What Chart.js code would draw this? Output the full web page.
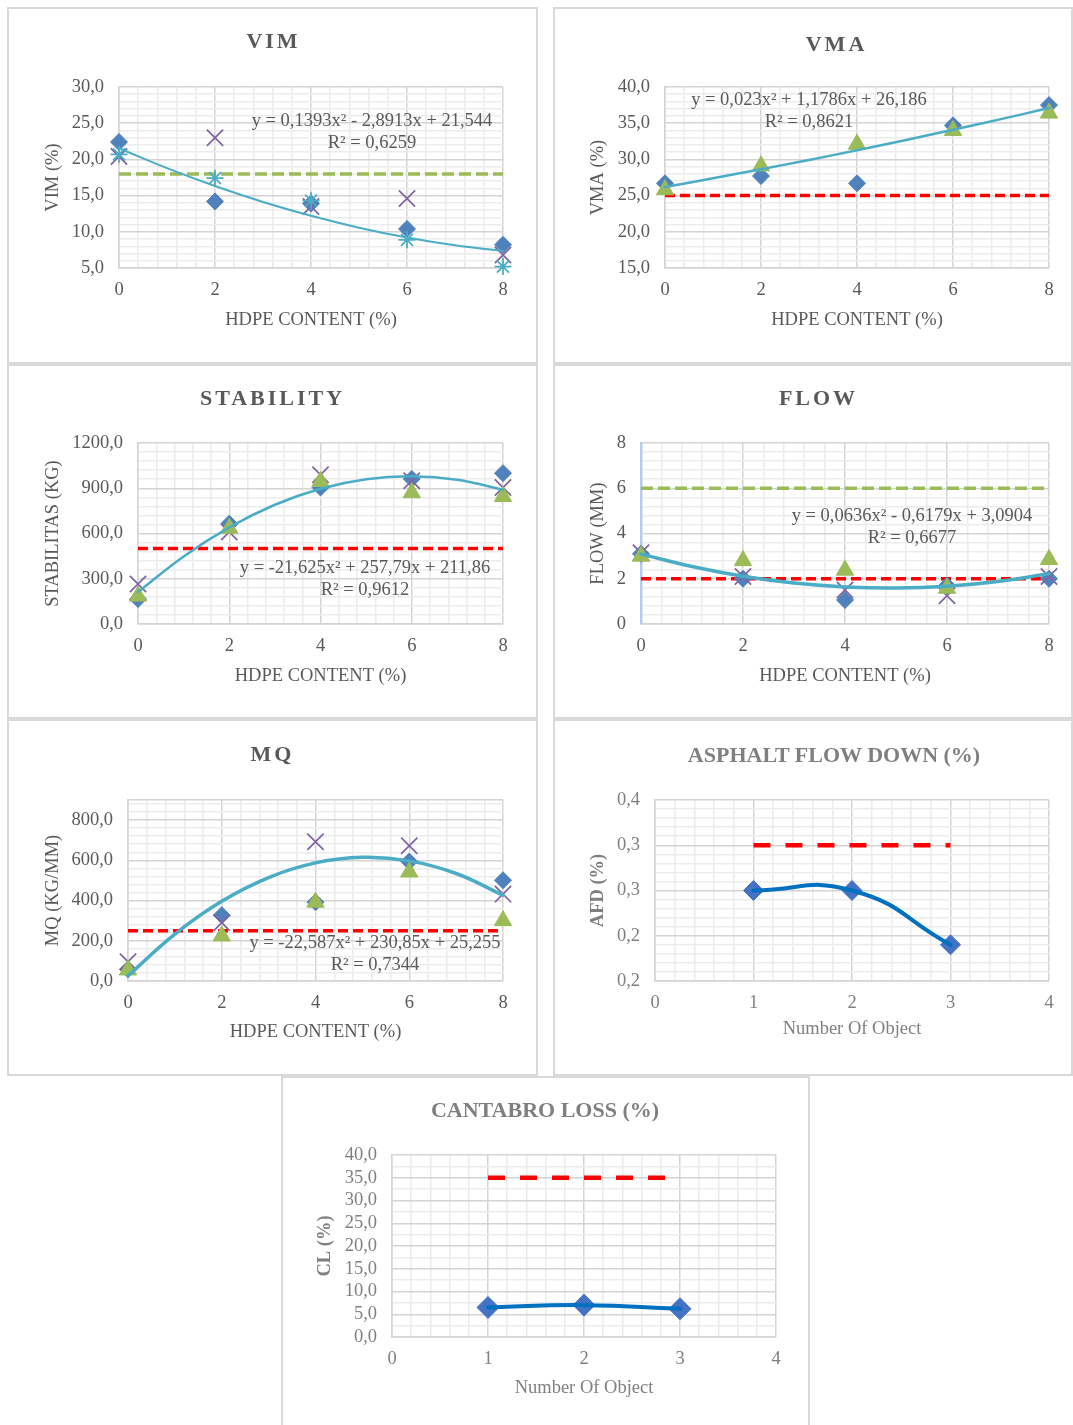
<!DOCTYPE html>
<html><head><meta charset="utf-8">
<script src="https://cdn.jsdelivr.net/npm/chart.js@4.4.1/dist/chart.umd.min.js"></script>
<style>
html,body{margin:0;padding:0;background:#fff;}
body{width:1073px;height:1425px;position:relative;overflow:hidden;font-family:'Liberation Serif','Times New Roman',serif;}
.panel{position:absolute;box-sizing:border-box;border:2px solid #d9d9d9;pointer-events:none;}
canvas{position:absolute;}
.ttl{position:absolute;transform:translate(-50%,-50%);white-space:nowrap;font-weight:bold;font-size:22px;line-height:1;}
</style></head><body>
<script>
// ---------------- DATA ----------------
const hdpe = [0, 2, 4, 6, 8];
const trendX = [0, 1, 2, 3, 4, 5, 6, 7, 8];
const hdpeTicks = ['0', '2', '4', '6', '8'];

// VIM (%)
const vimS1 = [22.4, 14.2, 13.9, 10.4, 8.2];
const vimS2 = [20.4, 23.0, 13.5, 14.6, 6.8];
const vimS3 = [20.7, 17.4, 14.3, 8.9, 5.2];
const vimLimit = [18, 18, 18, 18, 18];
const vimTrend = [21.54, 18.79, 16.32, 14.12, 12.21, 10.57, 9.21, 8.13, 7.33];
const vimYTicks = [5, 10, 15, 20, 25, 30];
const vimYLabels = ['5,0', '10,0', '15,0', '20,0', '25,0', '30,0'];

// VMA (%)
const vmaS1 = [26.7, 27.7, 26.7, 34.7, 37.5];
const vmaS2 = [25.8, 29.1, 32.1, 34.0, 36.4];
const vmaLimit = [25, 25, 25, 25, 25];
const vmaTrend = [26.19, 27.39, 28.64, 29.93, 31.27, 32.65, 34.09, 35.56, 37.09];
const vmaYTicks = [15, 20, 25, 30, 35, 40];
const vmaYLabels = ['15,0', '20,0', '25,0', '30,0', '35,0', '40,0'];

// STABILITY (kg)
const stabS1 = [165, 665, 905, 962, 1000];
const stabS2 = [265, 610, 990, 950, 905];
const stabS3 = [185, 635, 945, 870, 845];
const stabLimit = [500, 500, 500, 500, 500];
const stabTrend = [211.9, 448.0, 640.9, 790.6, 897.0, 960.2, 980.1, 956.8, 890.2];
const stabYTicks = [0, 300, 600, 900, 1200];
const stabYLabels = ['0,0', '300,0', '600,0', '900,0', '1200,0'];

// FLOW (mm)
const flowS1 = [3.1, 2.0, 1.06, 1.7, 2.0];
const flowS2 = [3.15, 2.1, 1.5, 1.25, 2.1];
const flowS3 = [3.0, 2.8, 2.38, 1.58, 2.85];
const flowUpper = [6, 6, 6, 6, 6];
const flowLower = [2, 2, 2, 2, 2];
const flowTrend = [3.09, 2.54, 2.11, 1.81, 1.64, 1.59, 1.67, 1.88, 2.22];
const flowYTicks = [0, 2, 4, 6, 8];
const flowYLabels = ['0', '2', '4', '6', '8'];

// MQ (kg/mm)
const mqS1 = [58, 327, 392, 594, 501];
const mqS2 = [96, 290, 692, 672, 432];
const mqS3 = [55, 224, 392, 542, 300];
const mqLimit = [250, 250, 250, 250, 250];
const mqTrend = [25.3, 233.5, 396.6, 514.5, 587.3, 614.9, 597.3, 534.5, 426.6];
const mqYTicks = [0, 200, 400, 600, 800];
const mqYLabels = ['0,0', '200,0', '400,0', '600,0', '800,0'];

// Asphalt flow down (%) & Cantabro loss (%)
const objects = [1, 2, 3];
const objTicks = [0, 1, 2, 3, 4];
const objLabels = ['0', '1', '2', '3', '4'];
const afdValues = [0.25, 0.25, 0.19];
const afdLimit = [0.30, 0.30, 0.30];
const afdYTicks = [0.15, 0.20, 0.25, 0.30, 0.35];
const afdYLabels = ['0,2', '0,2', '0,3', '0,3', '0,4'];
const clValues = [6.5, 7.0, 6.2];
const clLimit = [35, 35, 35];
const clYTicks = [0, 5, 10, 15, 20, 25, 30, 35, 40];
const clYLabels = ['0,0', '5,0', '10,0', '15,0', '20,0', '25,0', '30,0', '35,0', '40,0'];

// ---------------- STYLE ----------------
const SERIF = "'Liberation Serif','Times New Roman',serif";
const FS = 18.5;
const DARK = '#595959', GREY = '#7f7f7f';
const BLUE = '#4f81bd', PURPLE = '#8064a2', CYAN = '#4bacc6', GREEN = '#9bbb59', RED = '#ff0000';
const LBLUE = '#4472c4', LINEBLUE = '#0070c0';
const MAJ = '#d4d4d4', MIN = '#ececec';

function pts(xs, ys) { return xs.map((x, i) => ({ x: x, y: ys[i] })); }
function markers(label, xs, ys, style, color, r, order, bw) {
  return { label, data: pts(xs, ys), showLine: false, pointStyle: style, pointRadius: r, pointHoverRadius: r,
    backgroundColor: color, borderColor: color, pointBorderWidth: bw || 1, clip: false, order: order };
}
function curve(label, xs, ys, color, w, tension) {
  return { label, data: pts(xs, ys), showLine: true, pointRadius: 0, borderColor: color, backgroundColor: color,
    borderWidth: w, tension: tension, fill: false, borderCapStyle: 'round', clip: false, order: 0 };
}
function dashed(label, xs, ys, color, w, dash) {
  return { label, data: pts(xs, ys), showLine: true, pointRadius: 0, borderColor: color, backgroundColor: color,
    borderWidth: w, borderDash: dash, tension: 0, fill: false, clip: false, order: 9 };
}

function axis(a) {
  const near = (u, v) => Math.abs(u - v) < 1e-7;
  const isMaj = v => a.majors.some(m => near(m, v)) || near(v, a.min) || near(v, a.max);
  return {
    type: 'linear', position: a.pos === 'x' ? 'bottom' : 'left', min: a.min, max: a.max,
    afterBuildTicks(s) {
      const t = [];
      const n = Math.floor((a.max - a.min) / a.minor + 1e-7);
      for (let i = 0; i <= n; i++) t.push({ value: Math.round((a.min + i * a.minor) * 1e6) / 1e6 });
      if (t[t.length - 1].value < a.max - 1e-7) t.push({ value: a.max });
      s.ticks = t;
    },
    afterFit(s) { if (a.pos === 'x') s.height = a.size; else s.width = a.size; },
    ticks: {
      autoSkip: false, maxRotation: 0, minRotation: 0, padding: a.tickPad, color: a.color,
      font: { family: SERIF, size: FS },
      callback(v) { const i = a.majors.findIndex(m => near(m, v)); return i >= 0 ? a.labels[i] : ''; }
    },
    grid: { drawTicks: false, color: c => (c.tick && isMaj(c.tick.value)) ? MAJ : MIN, lineWidth: 1.5 },
    border: { display: true, color: a.borderColor || MAJ, width: a.borderWidth || 1.5 },
    title: { display: true, text: a.title, color: a.titleColor || a.color,
      font: { family: SERIF, size: FS, weight: a.bold ? 'bold' : 'normal' },
      padding: a.pos === 'x' ? { top: 0, bottom: a.titlePad } : { top: a.titlePad, bottom: 0 } }
  };
}

const eqPlugin = {
  id: 'eq',
  afterDatasetsDraw(chart, args, o) {
    if (!o || !o.lines) return;
    const ctx = chart.ctx;
    ctx.save();
    ctx.font = FS + 'px ' + SERIF;
    ctx.fillStyle = DARK;
    ctx.textAlign = 'center';
    ctx.textBaseline = 'middle';
    o.lines.forEach((t, i) => ctx.fillText(t, o.at[i][0] - o.origin[0], o.at[i][1] - o.origin[1]));
    ctx.restore();
  }
};

function buildPanel(p) {
  const [cx, cy, cw, ch] = p.box;
  const [pl, pt, pr, pb] = p.plot;
  const cv = document.createElement('canvas');
  cv.width = cw; cv.height = ch;
  cv.style.left = cx + 'px'; cv.style.top = cy + 'px';
  cv.style.width = cw + 'px'; cv.style.height = ch + 'px';
  document.body.appendChild(cv);
  const fr = document.createElement('div');
  fr.className = 'panel';
  fr.style.left = cx + 'px'; fr.style.top = cy + 'px';
  fr.style.width = cw + 'px'; fr.style.height = (p.frameH || ch) + 'px';
  document.body.appendChild(fr);
  const t = document.createElement('div');
  t.className = 'ttl';
  t.textContent = p.title;
  t.style.left = p.titleAt[0] + 'px'; t.style.top = p.titleAt[1] + 'px';
  t.style.color = p.titleColor;
  if (p.spacing) { t.style.letterSpacing = p.spacing + 'px'; t.style.paddingLeft = p.spacing + 'px'; }
  document.body.appendChild(t);

  const lh = FS * 1.2 / 2;
  p.x.pos = 'x'; p.x.size = cy + ch - pb; p.x.tickPad = 11; p.x.titlePad = cy + ch - p.xTitleY - lh;
  p.y.pos = 'y'; p.y.size = pl - cx; p.y.tickPad = 15; p.y.titlePad = p.yTitleX - cx - lh;

  new Chart(cv, {
    type: 'scatter',
    data: { datasets: p.datasets },
    options: {
      responsive: false, animation: false, events: [],
      layout: { padding: { left: 0, top: pt - cy, right: cx + cw - pr, bottom: 0 } },
      plugins: { legend: { display: false }, tooltip: { enabled: false },
        eq: p.eq ? { lines: p.eq, at: p.eqAt, origin: [cx, cy] } : {} },
      scales: { x: axis(p.x), y: axis(p.y) }
    },
    plugins: [eqPlugin]
  });
}

const hdpeAxis = () => ({ min: 0, max: 8, minor: 0.4, majors: hdpe, labels: hdpeTicks, color: DARK, title: 'HDPE CONTENT (%)' });
const objAxis = () => ({ min: 0, max: 4, minor: 0.2, majors: objTicks, labels: objLabels, color: GREY, title: 'Number Of Object' });

// VIM
buildPanel({
  box: [7, 7, 531, 357], plot: [119, 87, 503, 268],
  title: 'VIM', titleAt: [272, 41], titleColor: DARK, spacing: 3,
  xTitleY: 320, yTitleX: 53,
  x: hdpeAxis(),
  y: { min: 5, max: 30, minor: 1, majors: vimYTicks, labels: vimYLabels, color: DARK, title: 'VIM (%)' },
  datasets: [
    curve('Poly. (trend)', trendX, vimTrend, CYAN, 2, 0.4),
    markers('Sample 1', hdpe, vimS1, 'rectRot', BLUE, 8.5, 3),
    markers('Sample 2', hdpe, vimS2, 'crossRot', PURPLE, 11.5, 2, 1.75),
    markers('Sample 3', hdpe, vimS3, 'star', CYAN, 8.5, 1, 1.75),
    dashed('Spec', hdpe, vimLimit, GREEN, 3.5, [12, 5])
  ],
  eq: ['y = 0,1393x² - 2,8913x + 21,544', 'R² = 0,6259'], eqAt: [[372, 121], [372, 143]]
});

// VMA
buildPanel({
  box: [553, 7, 520, 357], plot: [665, 87, 1049, 268],
  title: 'VMA', titleAt: [835, 44], titleColor: DARK, spacing: 3,
  xTitleY: 320, yTitleX: 598,
  x: hdpeAxis(),
  y: { min: 15, max: 40, minor: 1, majors: vmaYTicks, labels: vmaYLabels, color: DARK, title: 'VMA (%)' },
  datasets: [
    curve('Poly. (trend)', trendX, vmaTrend, CYAN, 2.5, 0.4),
    markers('Sample 1', hdpe, vmaS1, 'rectRot', BLUE, 8.5, 3),
    markers('Sample 2', hdpe, vmaS2, 'triangle', GREEN, 10, 1),
    dashed('Spec', hdpe, vmaLimit, RED, 3.5, [10, 5])
  ],
  eq: ['y = 0,023x² + 1,1786x + 26,186', 'R² = 0,8621'], eqAt: [[809, 100], [809, 122]]
});

// STABILITY
buildPanel({
  box: [7, 364, 531, 355], plot: [138, 443, 503, 624],
  title: 'STABILITY', titleAt: [271, 398], titleColor: DARK, spacing: 3,
  xTitleY: 676, yTitleX: 53,
  x: hdpeAxis(),
  y: { min: 0, max: 1200, minor: 60, majors: stabYTicks, labels: stabYLabels, color: DARK, title: 'STABILITAS (KG)' },
  datasets: [
    curve('Poly. (trend)', trendX, stabTrend, CYAN, 2.5, 0.4),
    markers('Sample 1', hdpe, stabS1, 'rectRot', BLUE, 8.5, 3),
    markers('Sample 2', hdpe, stabS2, 'crossRot', PURPLE, 11.5, 2, 1.75),
    markers('Sample 3', hdpe, stabS3, 'triangle', GREEN, 10, 1),
    dashed('Spec', hdpe, stabLimit, RED, 3.5, [10, 5])
  ],
  eq: ['y = -21,625x² + 257,79x + 211,86', 'R² = 0,9612'], eqAt: [[365, 568], [365, 590]]
});

// FLOW
buildPanel({
  box: [553, 364, 520, 355], plot: [641, 443, 1049, 624],
  title: 'FLOW', titleAt: [817, 398], titleColor: DARK, spacing: 3,
  xTitleY: 676, yTitleX: 598,
  x: hdpeAxis(),
  y: { min: 0, max: 8, minor: 0.4, majors: flowYTicks, labels: flowYLabels, color: DARK, title: 'FLOW (MM)',
       borderColor: '#b4cdea', borderWidth: 2.5 },
  datasets: [
    curve('Poly. (trend)', trendX, flowTrend, CYAN, 3.5, 0.4),
    markers('Sample 1', hdpe, flowS1, 'rectRot', BLUE, 8.5, 3),
    markers('Sample 2', hdpe, flowS2, 'crossRot', PURPLE, 11.5, 2, 1.75),
    markers('Sample 3', hdpe, flowS3, 'triangle', GREEN, 10, 1),
    dashed('Max', hdpe, flowUpper, GREEN, 3.5, [12, 5]),
    dashed('Min', hdpe, flowLower, RED, 3.5, [10, 5])
  ],
  eq: ['y = 0,0636x² - 0,6179x + 3,0904', 'R² = 0,6677'], eqAt: [[912, 516], [912, 538]]
});

// MQ
buildPanel({
  box: [7, 719, 531, 357], plot: [128, 800, 503, 981],
  title: 'MQ', titleAt: [271, 754], titleColor: DARK, spacing: 3,
  xTitleY: 1032, yTitleX: 53,
  x: hdpeAxis(),
  y: { min: 0, max: 900, minor: 40, majors: mqYTicks, labels: mqYLabels, color: DARK, title: 'MQ (KG/MM)' },
  datasets: [
    curve('Poly. (trend)', trendX, mqTrend, CYAN, 3.5, 0.4),
    markers('Sample 1', hdpe, mqS1, 'rectRot', BLUE, 8.5, 3),
    markers('Sample 2', hdpe, mqS2, 'crossRot', PURPLE, 11.5, 2, 1.75),
    markers('Sample 3', hdpe, mqS3, 'triangle', GREEN, 10, 1),
    dashed('Spec', hdpe, mqLimit, RED, 3.5, [10, 5])
  ],
  eq: ['y = -22,587x² + 230,85x + 25,255', 'R² = 0,7344'], eqAt: [[375, 943], [375, 965]]
});

// ASPHALT FLOW DOWN
buildPanel({
  box: [553, 719, 520, 357], plot: [655, 800, 1049, 981],
  title: 'ASPHALT FLOW DOWN (%)', titleAt: [834, 755], titleColor: GREY, spacing: 0,
  xTitleY: 1029, yTitleX: 598,
  x: objAxis(),
  y: { min: 0.15, max: 0.35, minor: 0.01, majors: afdYTicks, labels: afdYLabels, color: GREY, title: 'AFD (%)', bold: true },
  datasets: [
    curve('AFD', objects, afdValues, LINEBLUE, 4, 0.5),
    markers('AFD points', objects, afdValues, 'rectRot', LBLUE, 10, 1),
    dashed('Max', objects, afdLimit, RED, 4.5, [17, 15])
  ]
});

// CANTABRO LOSS
buildPanel({
  box: [281, 1076, 529, 349], plot: [392, 1155, 776, 1337], frameH: 360,
  title: 'CANTABRO LOSS (%)', titleAt: [545, 1110], titleColor: GREY, spacing: 0,
  xTitleY: 1388, yTitleX: 325,
  x: objAxis(),
  y: { min: 0, max: 40, minor: 2.5, majors: clYTicks, labels: clYLabels, color: GREY, title: 'CL (%)', bold: true },
  datasets: [
    curve('CL', objects, clValues, LINEBLUE, 4, 0.5),
    markers('CL points', objects, clValues, 'rectRot', LBLUE, 11, 1),
    dashed('Max', objects, clLimit, RED, 4.5, [17, 15])
  ]
});
</script>
</body></html>
